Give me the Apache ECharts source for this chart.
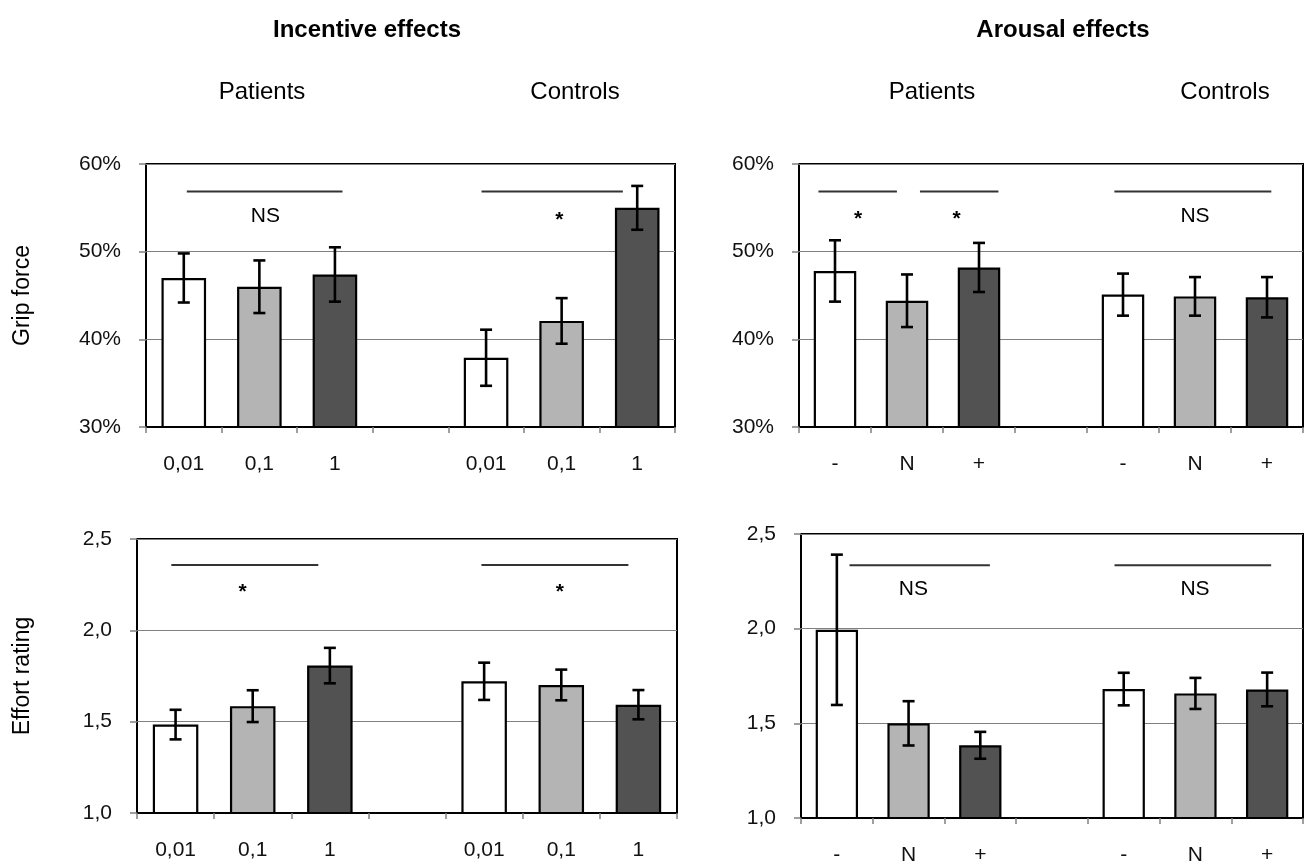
<!DOCTYPE html>
<html>
<head>
<meta charset="utf-8">
<script src="https://cdn.jsdelivr.net/npm/echarts@6/dist/echarts.min.js"></script>
<style>html,body{margin:0;padding:0;background:#fff}#c{width:1304px;height:866px}</style>
</head>
<body>
<div id="c"></div>
<script>
// ---------- data ----------
const categoriesIncentive = ['0,01', '0,1', '1', '', '0,01', '0,1', '1'];
const categoriesArousal = ['-', 'N', '+', '', '-', 'N', '+'];

const gripTicks = [30, 40, 50, 60];
const gripTickLabels = ['30%', '40%', '50%', '60%'];
const effortTicks = [1.0, 1.5, 2.0, 2.5];
const effortTickLabels = ['1,0', '1,5', '2,0', '2,5'];

// Grip force (%) – incentive
const gripIncPatients = [47.0, 46.0, 47.4];
const gripIncPatientsSE = [2.8, 3.0, 3.1];
const gripIncControls = [37.9, 42.1, 55.0];
const gripIncControlsSE = [3.2, 2.6, 2.5];
// Grip force (%) – arousal
const gripAroPatients = [47.8, 44.4, 48.2];
const gripAroPatientsSE = [3.5, 3.0, 2.8];
const gripAroControls = [45.1, 44.9, 44.8];
const gripAroControlsSE = [2.4, 2.2, 2.3];
// Effort rating – incentive
const effortIncPatients = [1.484, 1.585, 1.807];
const effortIncPatientsSE = [0.081, 0.087, 0.097];
const effortIncControls = [1.721, 1.701, 1.593];
const effortIncControlsSE = [0.102, 0.084, 0.080];
// Effort rating – arousal
const effortAroPatients = [1.994, 1.500, 1.384];
const effortAroPatientsSE = [0.397, 0.117, 0.071];
const effortAroControls = [1.681, 1.658, 1.679];
const effortAroControlsSE = [0.086, 0.082, 0.089];

// significance bars: [xStart, xEnd, y] in category units (0..7) / axis values
const sigLinesGripInc = [[0.54, 2.60, 56.85], [4.44, 6.31, 56.85]];
const sigTextGripInc = [[1.58, 54.0, 'NS'], [5.47, 54.2, '*']];
const sigLinesGripAro = [[0.27, 1.36, 56.85], [1.68, 2.77, 56.85], [4.38, 6.56, 56.85]];
const sigTextGripAro = [[0.82, 54.3, '*'], [2.19, 54.3, '*'], [5.50, 54.0, 'NS']];
const sigLinesEffortInc = [[0.445, 2.35, 2.358], [4.465, 6.37, 2.358]];
const sigTextEffortInc = [[1.37, 2.234, '*'], [5.48, 2.234, '*']];
const sigLinesEffortAro = [[0.676, 2.634, 2.335], [4.372, 6.556, 2.335]];
const sigTextEffortAro = [[1.567, 2.206, 'NS'], [5.494, 2.206, 'NS']];

// ---------- styling / layout ----------
const FONT = '"Liberation Sans", Arial, sans-serif';
const barColors = ['#ffffff', '#b4b4b4', '#525252'];
const grids = [
  { left: 146, top: 164, width: 529, height: 263 },
  { left: 799, top: 164, width: 504, height: 263 },
  { left: 137, top: 539, width: 540, height: 274 },
  { left: 801, top: 534, width: 502, height: 284 }
];

const panels = [
  { cats: categoriesIncentive, p: gripIncPatients, pse: gripIncPatientsSE, c: gripIncControls, cse: gripIncControlsSE,
    ticks: gripTicks, tickLabels: gripTickLabels, lines: sigLinesGripInc, texts: sigTextGripInc, name: 'Grip force', nameGap: 112 },
  { cats: categoriesArousal, p: gripAroPatients, pse: gripAroPatientsSE, c: gripAroControls, cse: gripAroControlsSE,
    ticks: gripTicks, tickLabels: gripTickLabels, lines: sigLinesGripAro, texts: sigTextGripAro, name: '', nameGap: 0 },
  { cats: categoriesIncentive, p: effortIncPatients, pse: effortIncPatientsSE, c: effortIncControls, cse: effortIncControlsSE,
    ticks: effortTicks, tickLabels: effortTickLabels, lines: sigLinesEffortInc, texts: sigTextEffortInc, name: 'Effort rating', nameGap: 103 },
  { cats: categoriesArousal, p: effortAroPatients, pse: effortAroPatientsSE, c: effortAroControls, cse: effortAroControlsSE,
    ticks: effortTicks, tickLabels: effortTickLabels, lines: sigLinesEffortAro, texts: sigTextEffortAro, name: '', nameGap: 0 }
];

const option = {
  animation: false,
  backgroundColor: '#ffffff',
  textStyle: { fontFamily: FONT },
  grid: grids.map(g => Object.assign({ show: true, borderColor: '#000', borderWidth: 2, backgroundColor: 'transparent' }, g)),
  xAxis: [],
  yAxis: [],
  series: [],
  graphic: [
    { type: 'text', x: 367, y: 30, style: { text: 'Incentive effects', fontSize: 24, fontWeight: 'bold', fontFamily: FONT, fill: '#000', align: 'center', verticalAlign: 'middle' } },
    { type: 'text', x: 1063, y: 30, style: { text: 'Arousal effects', fontSize: 24, fontWeight: 'bold', fontFamily: FONT, fill: '#000', align: 'center', verticalAlign: 'middle' } },
    { type: 'text', x: 262, y: 92, style: { text: 'Patients', fontSize: 24, fontFamily: FONT, fill: '#000', align: 'center', verticalAlign: 'middle' } },
    { type: 'text', x: 575, y: 92, style: { text: 'Controls', fontSize: 24, fontFamily: FONT, fill: '#000', align: 'center', verticalAlign: 'middle' } },
    { type: 'text', x: 932, y: 92, style: { text: 'Patients', fontSize: 24, fontFamily: FONT, fill: '#000', align: 'center', verticalAlign: 'middle' } },
    { type: 'text', x: 1225, y: 92, style: { text: 'Controls', fontSize: 24, fontFamily: FONT, fill: '#000', align: 'center', verticalAlign: 'middle' } }
  ]
};

panels.forEach((pn, k) => {
  const tmin = pn.ticks[0], tmax = pn.ticks[pn.ticks.length - 1];
  const step = pn.ticks[1] - pn.ticks[0];
  option.xAxis.push({
    type: 'category', gridIndex: k, data: pn.cats, boundaryGap: true,
    axisLine: { show: true, lineStyle: { color: '#000', width: 2 } },
    axisTick: { show: true, interval: 0, length: 6, lineStyle: { color: '#808080', width: 1.5 } },
    axisLabel: { interval: 0, margin: 27, fontSize: 21, color: '#111', fontFamily: FONT },
    splitLine: { show: false }
  });
  option.xAxis.push({ type: 'value', gridIndex: k, min: 0, max: 7, show: false });
  option.yAxis.push({
    type: 'value', gridIndex: k, min: tmin, max: tmax, interval: step,
    name: pn.name, nameLocation: 'middle', nameGap: pn.nameGap, nameRotate: 90,
    nameTextStyle: { fontSize: 23, color: '#000', fontFamily: FONT },
    axisLine: { show: false },
    axisTick: { show: true, length: 7, lineStyle: { color: '#808080', width: 1.5 } },
    axisLabel: {
      margin: 25, fontSize: 21, color: '#111', fontFamily: FONT,
      formatter: v => { const i = pn.ticks.findIndex(t => Math.abs(t - v) < 1e-6); return i >= 0 ? pn.tickLabels[i] : ''; }
    },
    splitLine: { show: true, lineStyle: { color: '#808080', width: 1.2 } }
  });

  const means = pn.p.concat([null], pn.c);
  const ses = pn.pse.concat([null], pn.cse);
  const barData = means.map((v, i) => v == null ? '-' : { value: v, itemStyle: { color: barColors[i % 4] } });
  option.series.push({
    type: 'bar', xAxisIndex: 2 * k, yAxisIndex: k, data: barData, barWidth: '59%',
    itemStyle: { borderColor: '#000', borderWidth: 2.2 }, z: 2
  });

  const errData = [];
  means.forEach((v, i) => { if (v != null) errData.push([i, v - ses[i], v + ses[i]]); });
  option.series.push({
    type: 'custom', xAxisIndex: 2 * k, yAxisIndex: k, data: errData, z: 5,
    renderItem: (params, api) => {
      const x = api.value(0), lo = api.value(1), hi = api.value(2);
      const a = api.coord([x, lo]), b = api.coord([x, hi]);
      const w = 6;
      const st = { stroke: '#000', lineWidth: 2.6 };
      return { type: 'group', children: [
        { type: 'line', shape: { x1: a[0], y1: a[1], x2: b[0], y2: b[1] }, style: st },
        { type: 'line', shape: { x1: a[0] - w, y1: a[1], x2: a[0] + w, y2: a[1] }, style: st },
        { type: 'line', shape: { x1: b[0] - w, y1: b[1], x2: b[0] + w, y2: b[1] }, style: st }
      ] };
    }
  });

  option.series.push({
    type: 'custom', xAxisIndex: 2 * k + 1, yAxisIndex: k, data: pn.lines, z: 6,
    renderItem: (params, api) => {
      const a = api.coord([api.value(0), api.value(2)]), b = api.coord([api.value(1), api.value(2)]);
      return { type: 'line', shape: { x1: a[0], y1: a[1], x2: b[0], y2: b[1] }, style: { stroke: '#333', lineWidth: 2 } };
    }
  });

  const texts = pn.texts;
  option.series.push({
    type: 'custom', xAxisIndex: 2 * k + 1, yAxisIndex: k, data: texts.map(t => [t[0], t[1]]), z: 6,
    renderItem: (params, api) => {
      const p = api.coord([api.value(0), api.value(1)]);
      const label = texts[params.dataIndex][2];
      const star = label === '*';
      return { type: 'text', x: p[0], y: p[1] + (star ? 5 : 0), style: {
        text: label, fontSize: star ? 21 : 21, fontWeight: star ? 'bold' : 'normal', fontFamily: FONT,
        fill: '#000', align: 'center', verticalAlign: 'middle' } };
    }
  });
});

const chart = echarts.init(document.getElementById('c'), null, { renderer: 'canvas' });
chart.setOption(option);
</script>
</body>
</html>
